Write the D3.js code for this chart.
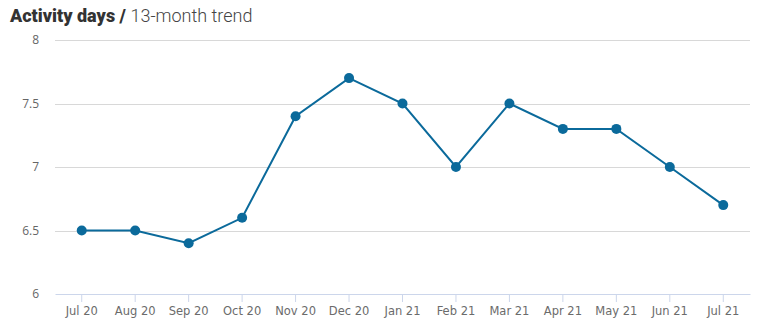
<!DOCTYPE html>
<html><head><meta charset="utf-8">
<script src="https://cdn.jsdelivr.net/npm/d3@7"></script>
<style>body{margin:0;background:#fff}svg{display:block}</style>
</head><body>
<svg id="c" width="757" height="326"></svg>
<script>
const categories = ["Jul 20","Aug 20","Sep 20","Oct 20","Nov 20","Dec 20","Jan 21","Feb 21","Mar 21","Apr 21","May 21","Jun 21","Jul 21"];
const values = [6.5, 6.5, 6.4, 6.6, 7.4, 7.7, 7.5, 7.0, 7.5, 7.3, 7.3, 7.0, 6.7];
const yTicks = [6, 6.5, 7, 7.5, 8];

(function () {
const svg = d3.select("#c");
const mLeft = 55, mRight = 750, mTop = 40, mBottom = 294;
const x = d3.scaleBand().domain(categories).range([mLeft, mRight]);
const y = d3.scaleLinear().domain([6, 8]).range([mBottom, mTop]);

// title
const t = svg.append("text").attr("x", 10).attr("y", 22)
  .style("font-family", "Roboto").style("font-size", "18px");
t.append("tspan").text("Activity days / ").style("font-weight", "900").attr("fill", "#333");
t.append("tspan").text("13-month trend").style("font-weight", "300").attr("fill", "#444");

// grid
svg.append("g").selectAll("line").data(yTicks.filter(d => d !== 6)).join("line")
  .attr("x1", mLeft).attr("x2", mRight).attr("y1", d => Math.round(y(d)) + 0.5).attr("y2", d => Math.round(y(d)) + 0.5)
  .attr("stroke", "#d8d8d8");

// y labels
svg.append("g").selectAll("text").data(yTicks).join("text")
  .attr("x", 39).attr("y", d => y(d) + 4).attr("text-anchor", "end")
  .style("font-family", "Open Sans").style("font-size", "12px").attr("fill", "#666")
  .text(d => d);

// x axis
const xa = svg.append("g").attr("transform", `translate(0,${mBottom})`)
  .call(d3.axisBottom(x).tickSize(8).tickSizeOuter(0).tickPadding(5));
xa.attr("font-family", null).attr("font-size", null);
xa.select(".domain").attr("stroke", "#ccd6eb");
xa.selectAll(".tick line").attr("stroke", "#ccd6eb");
xa.selectAll(".tick text").style("font-family", "'DejaVu Sans'").style("font-size", "11.5px").attr("fill", "#6b6b6b");

// line
const line = d3.line().x((d, i) => x(categories[i]) + x.bandwidth() / 2).y(d => y(d));
svg.append("path").datum(values).attr("d", line).attr("fill", "none")
  .attr("stroke", "#0b6a9b").attr("stroke-width", 2);
svg.append("g").selectAll("circle").data(values).join("circle")
  .attr("cx", (d, i) => x(categories[i]) + x.bandwidth() / 2).attr("cy", d => y(d)).attr("r", 5)
  .attr("fill", "#0b6a9b");
})();
</script>
</body></html>
